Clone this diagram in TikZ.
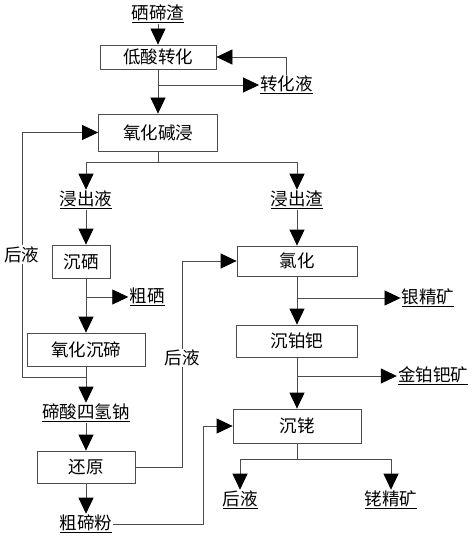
\documentclass[tikz,border=0pt]{standalone}
\usepackage{fontspec}
\setmainfont{Noto Sans CJK SC}
\usetikzlibrary{arrows.meta}
\tikzset{
    node distance=40pt, % default spacing, set again on most nodes below
    }

\begin{document}
\begin{tikzpicture}[
procnode/.style={rectangle, draw=black!70, line width=0.8pt, inner sep=2pt, font=\fontsize{17.5}{20}\selectfont},
textnode/.style={inner sep=1pt, font=\fontsize{17.5}{20}\selectfont},
flow/.style={draw=black!70, line width=0.8pt, -{Triangle[width=15pt,length=16pt,color=black]}},
lineonly/.style={draw=black!70, line width=0.8pt},
]
\useasboundingbox (0pt,0pt) rectangle (474pt,-537pt);

\node[textnode] (xtz) at (158pt,-14pt) {\underline{硒碲渣}};
\node[procnode, minimum width=116pt, minimum height=24pt] (dszh) [node distance=43pt, below of=xtz] {低酸转化};
\node[textnode] (zhy) [node distance=28pt, below of=dszh, xshift=128.5pt] {\underline{转化液}};
\node[procnode, minimum width=119pt, minimum height=37pt] (yhjj) [node distance=75.5pt, below of=dszh] {氧化碱浸};
\node[textnode] (jcy) [node distance=67.5pt, below of=yhjj, xshift=-72pt] {\underline{浸出液}};
\node[textnode] (jcz) [node distance=211pt, right of=jcy] {\underline{浸出渣}};

\node[procnode, minimum width=58pt, minimum height=33pt] (cx) [node distance=61.5pt, below of=jcy, xshift=-5pt] {沉硒};
\node[textnode] (hy1) [node distance=59pt, left of=cx, yshift=7pt] {后液};
\node[textnode] (cux) [node distance=66pt, right of=cx, yshift=-35.5pt] {\underline{粗硒}};
\node[procnode, minimum width=118pt, minimum height=33pt] (yhcd) [node distance=88pt, below of=cx, xshift=5pt] {氧化沉碲};
\node[textnode] (sdn) [node distance=63.5pt, below of=yhcd] {\underline{碲酸四氢钠}};
\node[procnode, minimum width=98pt, minimum height=32pt] (hyuan) [node distance=54pt, below of=sdn] {还原};
\node[textnode] (ctf) [node distance=57pt, below of=hyuan] {\underline{粗碲粉}};

\node[procnode, minimum width=120pt, minimum height=30pt] (lh) [node distance=61pt, below of=jcz] {氯化};
\node[textnode] (yjk) [node distance=131pt, right of=lh, yshift=-37pt] {\underline{银精矿}};
\node[procnode, minimum width=121pt, minimum height=32pt] (cbb) [node distance=80pt, below of=lh] {沉铂钯};
\node[textnode] (jbbk) [node distance=136pt, right of=cbb, yshift=-35pt] {\underline{金铂钯矿}};
\node[textnode] (hy2) [node distance=115pt, left of=cbb, yshift=-17pt] {后液};
\node[procnode, minimum width=128pt, minimum height=34pt] (cl) [node distance=85pt, below of=cbb] {沉铑};
\node[textnode] (hy3) [node distance=74pt, below of=cl, xshift=-57pt] {\underline{后液}};
\node[textnode] (ljk) [node distance=151pt, right of=hy3] {\underline{铑精矿}};

% upper part
\draw[flow] (xtz) -- (dszh);
\draw[flow] (zhy.north) |- (dszh.east);
\draw[flow] (dszh) -- (yhjj);
\draw[flow] (dszh.south |- zhy.west) -- (zhy.west);
\draw[lineonly] (yhjj.south) -- ++(0,-11pt) coordinate (split1);
\draw[flow] (split1) -| (jcy.north);
\draw[flow] (split1) -| (jcz.north);

% left branch
\draw[flow] (jcy.south) -- (jcy.south |- cx.north);
\draw[flow] (cx.south -| yhcd.north) -- (yhcd.north);
\draw[flow] (yhcd.north |- cux.west) -- (cux.west);
\draw[flow] (yhcd) -- (sdn);
\draw[lineonly] ([yshift=-11pt]yhcd.south) -| (hy1.south);
\draw[flow] (hy1.north) |- (yhjj.west);
\draw[flow] (sdn) -- (hyuan);
\draw[flow] (hyuan) -- (ctf);
\draw[lineonly] (hyuan.east) -| (hy2.south);
\draw[flow] (hy2.north) |- (lh.west);
\draw[flow] (ctf.east) -- ++(90pt,0) |- (cl.west);

% right branch
\draw[flow] (jcz) -- (lh);
\draw[flow] (lh) -- (cbb);
\draw[flow] (lh.south |- yjk.west) -- (yjk.west);
\draw[flow] (cbb) -- (cl);
\draw[flow] (cbb.south |- jbbk.west) -- (jbbk.west);
\draw[lineonly] (cl.south) -- ++(0,-16pt) coordinate (split2);
\draw[flow] (split2) -| (hy3.north);
\draw[flow] (split2) -| (ljk.north);
\end{tikzpicture}
\end{document}
